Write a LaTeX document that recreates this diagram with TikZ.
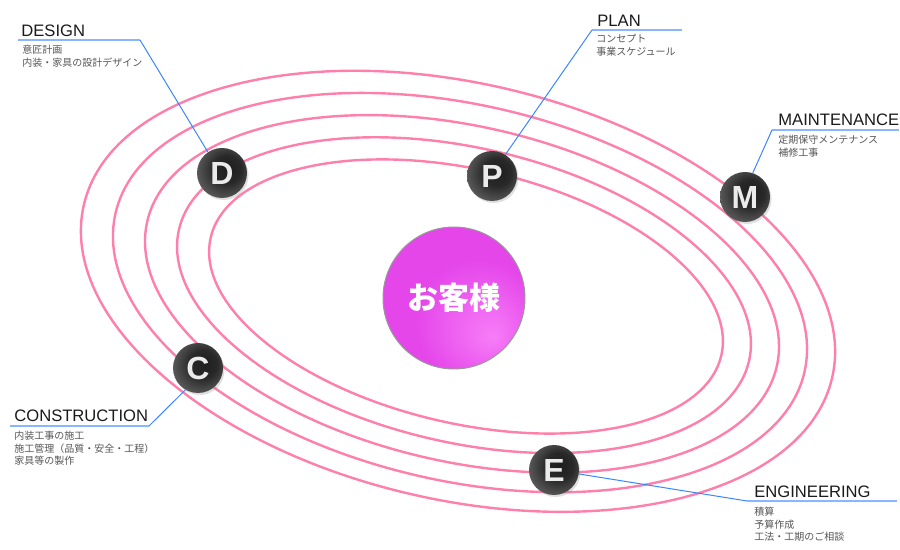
\documentclass[tikz,border=0pt]{standalone}
\usepackage{fontspec}
\setmainfont{Liberation Sans}
\newfontfamily\jpfont{Noto Sans CJK JP}
\usepackage{tikz}
\usetikzlibrary{shadows}
\definecolor{orbit}{HTML}{FF7FAC}
\definecolor{leader}{HTML}{3A86FF}
\definecolor{rule}{HTML}{8AB6FF}
\definecolor{ink}{HTML}{1A1A1A}
\definecolor{memo}{HTML}{555555}
\definecolor{pinkhi}{HTML}{F77EF8}
\definecolor{pinkmid}{HTML}{E546EA}
\definecolor{pinklo}{HTML}{D24CD4}
\pgfdeclareradialshading{planetshade}{\pgfpoint{7bp}{5bp}}{color(0bp)=(black!88); color(14bp)=(black!84); color(30bp)=(black!64); color(44bp)=(black!42); color(56bp)=(black!28)}
\pgfdeclareradialshading{clientshade}{\pgfpoint{14bp}{-14bp}}{color(0bp)=(pinkhi); color(22bp)=(pinkmid); color(46bp)=(pinkmid); color(56bp)=(pinklo)}

\begin{document}
\begin{tikzpicture}[x=0.5pt,y=-0.5pt,
  orbitline/.style={draw=orbit,line width=1.2pt},
  planet/.style={circle,minimum size=25pt,inner sep=0pt,shade,shading=planetshade,text=black!8,font=\fontsize{16}{16}\selectfont\bfseries,drop shadow={shadow xshift=0.8pt,shadow yshift=-1pt,opacity=0.25}},
  title/.style={anchor=base west,inner sep=0pt,text=ink,font=\fontsize{8.3}{10}\selectfont},
  memo/.style={anchor=north west,inner sep=0pt,align=left,text=memo,font=\jpfont\fontsize{5}{6.25}\selectfont},
  underline/.style={draw=rule,line width=1pt},
  leaderline/.style={draw=leader,line width=0.5pt}]
\useasboundingbox (0,0) rectangle (900,550);
\foreach \i in {0,...,4}{
  \draw[orbitline,rotate around={-13:({466-2*\i},{296.5-1.3*\i})}] ({466-2*\i},{296.5-1.3*\i}) ellipse [x radius={262+30.5*\i}, y radius={127+20.3*\i}];
}
\node[circle,minimum size=71pt,inner sep=0pt,shade,shading=clientshade,draw=black!40,line width=0.5pt,text=white,font=\jpfont\fontsize{15.5}{16}\selectfont\bfseries] (client) at (454,298) {お客様};

\coordinate (designL) at (18,40);
\coordinate (designR) at (140,40);
\coordinate (planL) at (592,30);
\coordinate (planR) at (682,30);
\coordinate (maintL) at (772,130);
\coordinate (maintR) at (899,130);
\coordinate (constrL) at (10,426);
\coordinate (constrR) at (149,426);
\coordinate (enginL) at (747,501);
\coordinate (enginR) at (897,501);

\node[title] (designT) at (21,37) {DESIGN};
\node[memo] (designM) at (22,45) {意匠計画\\内装・家具の設計デザイン};
\node[title] (planT) at (597,27) {PLAN};
\node[memo] (planM) at (596,34) {コンセプト\\事業スケジュール};
\node[title] (maintT) at (778,126) {MAINTENANCE};
\node[memo] (maintM) at (778,135) {定期保守メンテナンス\\補修工事};
\node[title] (constrT) at (14,422) {CONSTRUCTION};
\node[memo] (constrM) at (14,431) {内装工事の施工\\施工管理（品質・安全・工程）\\家具等の製作};
\node[title] (enginT) at (754,498) {ENGINEERING};
\node[memo] (enginM) at (754,507) {積算\\予算作成\\工法・工期のご相談};

\draw[underline] (designL) -- (designR);
\draw[underline] (planL) -- (planR);
\draw[underline] (maintL) -- (maintR);
\draw[underline] (constrL) -- (constrR);
\draw[underline] (enginL) -- (enginR);

\node[planet] (design) at (222,173) {D};
\node[planet] (plan) at (492,176) {P};
\node[planet] (maint) at (745,197) {M};
\node[planet] (constr) at (198,368) {C};
\node[planet] (engin) at (554,470) {E};

\draw[leaderline] (designR) -- (design.124);
\draw[leaderline] (planL) -- (plan.58);
\draw[leaderline] (maintL) -- (maint.72);
\draw[leaderline] (constrR) -- (constr.240);
\draw[leaderline] (enginL) -- (engin.351);
\end{tikzpicture}
\end{document}
